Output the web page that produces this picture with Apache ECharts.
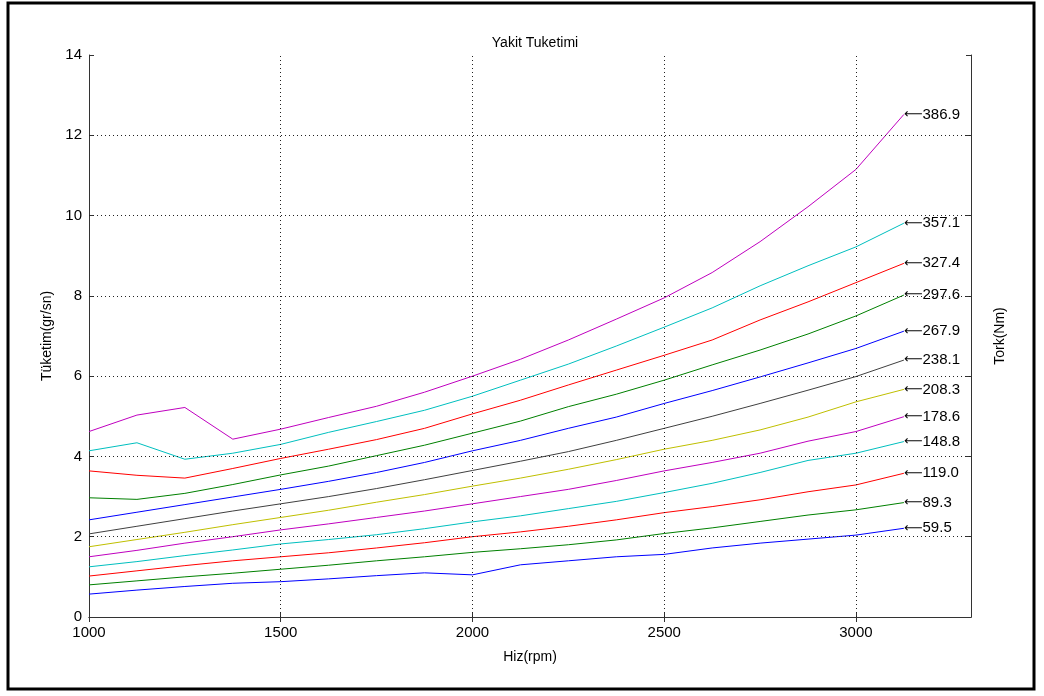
<!DOCTYPE html>
<html>
<head>
<meta charset="utf-8">
<script src="https://cdn.jsdelivr.net/npm/echarts@6/dist/echarts.min.js"></script>
<style>
  html, body { margin: 0; padding: 0; background: #fff; }
  #chart { width: 1044px; height: 696px; }
</style>
</head>
<body>
<div id="chart"></div>
<script>
  // hiz (rpm) noktalari
  var rpm = [1000, 1125, 1250, 1375, 1500, 1625, 1750, 1875, 2000, 2125, 2250, 2375, 2500, 2625, 2750, 2875, 3000, 3125]
  var torque = ['59.5', '89.3', '119.0', '148.8', '178.6', '208.3', '238.1', '267.9', '297.6', '327.4', '357.1', '386.9']
  var yTicks = [0, 2, 4, 6, 8, 10, 12, 14]
  var xTicks = [1000, 1500, 2000, 2500, 3000]

  // tuketim (gr/sn), her tork icin
  var t59 = [0.57, 0.67, 0.76, 0.84, 0.88, 0.95, 1.03, 1.10, 1.05, 1.30, 1.40, 1.50, 1.56, 1.72, 1.84, 1.94, 2.04, 2.21]
  var t89 = [0.80, 0.90, 1.00, 1.09, 1.19, 1.29, 1.40, 1.50, 1.61, 1.70, 1.80, 1.92, 2.08, 2.22, 2.38, 2.54, 2.67, 2.85]
  var t119 = [1.02, 1.15, 1.28, 1.40, 1.50, 1.60, 1.72, 1.85, 2.00, 2.12, 2.26, 2.42, 2.60, 2.75, 2.92, 3.12, 3.29, 3.58]
  var t148 = [1.25, 1.38, 1.53, 1.67, 1.82, 1.93, 2.05, 2.20, 2.37, 2.52, 2.70, 2.88, 3.10, 3.33, 3.60, 3.90, 4.08, 4.37]
  var t178 = [1.50, 1.66, 1.84, 2.00, 2.17, 2.32, 2.48, 2.64, 2.82, 3.00, 3.18, 3.40, 3.64, 3.85, 4.08, 4.38, 4.62, 4.99]
  var t208 = [1.75, 1.93, 2.11, 2.30, 2.48, 2.66, 2.86, 3.05, 3.26, 3.46, 3.68, 3.92, 4.18, 4.40, 4.66, 4.98, 5.36, 5.67]
  var t238 = [2.07, 2.26, 2.45, 2.64, 2.82, 3.00, 3.20, 3.42, 3.65, 3.88, 4.12, 4.40, 4.70, 5.00, 5.32, 5.65, 5.99, 6.40]
  var t267 = [2.42, 2.61, 2.80, 2.99, 3.18, 3.38, 3.60, 3.85, 4.14, 4.40, 4.70, 4.98, 5.32, 5.64, 5.98, 6.33, 6.69, 7.12]
  var t297 = [2.97, 2.93, 3.08, 3.30, 3.54, 3.76, 4.02, 4.28, 4.58, 4.88, 5.24, 5.55, 5.90, 6.28, 6.65, 7.05, 7.50, 8.02]
  var t327 = [3.64, 3.53, 3.46, 3.70, 3.95, 4.18, 4.42, 4.70, 5.06, 5.40, 5.78, 6.15, 6.52, 6.90, 7.40, 7.85, 8.33, 8.81]
  var t357 = [4.14, 4.34, 3.93, 4.08, 4.30, 4.60, 4.87, 5.15, 5.50, 5.90, 6.30, 6.75, 7.22, 7.70, 8.25, 8.75, 9.22, 9.81]
  var t386 = [4.62, 5.03, 5.22, 4.43, 4.68, 4.97, 5.25, 5.60, 6.00, 6.42, 6.90, 7.42, 7.95, 8.58, 9.35, 10.22, 11.15, 12.52]

  var allValues = [t59, t89, t119, t148, t178, t208, t238, t267, t297, t327, t357, t386]
  var colors = ['#0000ff', '#008000', '#ff0000', '#00bfbf', '#bf00bf', '#bfbf00', '#404040',
                '#0000ff', '#008000', '#ff0000', '#00bfbf', '#bf00bf']

  var font = '"Liberation Sans", Arial, Helvetica, sans-serif'

  var series = []
  for (var i = 0; i < allValues.length; i++) {
    var pts = []
    for (var j = 0; j < rpm.length; j++) {
      pts.push([rpm[j], allValues[i][j]])
    }
    series.push({
      name: torque[i],
      type: 'line',
      data: pts,
      showSymbol: false,
      symbol: 'none',
      lineStyle: {color: colors[i], width: 1},
      itemStyle: {color: colors[i]},
      endLabel: {
        show: true,
        distance: 0,
        formatter: '{a|\u27F5}{b|' + torque[i] + '}',
        rich: {
          a: {fontFamily: '"DejaVu Sans"', fontSize: 13, color: '#000'},
          b: {fontFamily: font, fontSize: 15, color: '#000'}
        }
      },
      z: 3
    })
  }

  var axisLine = {show: true, lineStyle: {color: '#333', width: 1}}
  var tick = {show: true, inside: true, length: 5, lineStyle: {color: '#333'}}
  var xTick = {show: true, inside: true, length: 5, lineStyle: {color: '#333'}, customValues: xTicks}
  var gridStyle = {color: '#222', width: 1, type: [1, 3]}

  var chart = echarts.init(document.getElementById('chart'))
  chart.setOption({
    animation: false,
    backgroundColor: '#fff',
    title: {
      text: 'Yakit Tuketimi',
      left: 530,
      textAlign: 'center',
      top: 31,
      textStyle: {fontFamily: font, fontSize: 14, fontWeight: 'normal', color: '#000'}
    },
    grid: {left: 89, right: 73, top: 55, bottom: 79},
    xAxis: [{
      type: 'value',
      min: 1000,
      max: 3300,
      interval: 500,
      name: 'Hiz(rpm)',
      nameLocation: 'middle',
      nameGap: 33,
      nameTextStyle: {fontFamily: font, fontSize: 14, color: '#000'},
      axisLine: axisLine,
      axisTick: xTick,
      splitLine: {show: false},
      axisLabel: {
        margin: 8,
        fontFamily: font, fontSize: 15, color: '#000',
        formatter: function (v) { return xTicks.indexOf(v) >= 0 ? String(v) : '' }
      }
    }, {
      type: 'value',
      position: 'top',
      min: 1000,
      max: 3300,
      interval: 500,
      axisLine: axisLine,
      axisTick: xTick,
      axisLabel: {show: false},
      splitLine: {show: false}
    }],
    yAxis: [{
      type: 'value',
      min: 0,
      max: 14,
      interval: 2,
      name: 'Tüketim(gr/sn)',
      nameLocation: 'middle',
      nameGap: 33,
      nameRotate: 90,
      nameTextStyle: {fontFamily: font, fontSize: 14, color: '#000'},
      axisLine: axisLine,
      axisTick: tick,
      splitLine: {show: false},
      axisLabel: {
        margin: 7,
        fontFamily: font, fontSize: 15, color: '#000',
        formatter: function (v) { return yTicks.indexOf(v) >= 0 ? String(v) : '' }
      }
    }, {
      type: 'value',
      position: 'right',
      min: 0,
      max: 14,
      interval: 2,
      name: 'Tork(Nm)',
      nameLocation: 'middle',
      nameGap: 22,
      nameRotate: 90,
      nameTextStyle: {fontFamily: font, fontSize: 14, color: '#000'},
      axisLine: axisLine,
      axisTick: tick,
      axisLabel: {show: false},
      splitLine: {show: false}
    }],
    series: series.concat([{
      // noktali izgara, sadece ic tiklerde
      type: 'line',
      data: [],
      markLine: {
        silent: true,
        symbol: 'none',
        label: {show: false},
        lineStyle: gridStyle,
        data: [1500, 2000, 2500, 3000].map(function (v) { return {xAxis: v} })
          .concat([2, 4, 6, 8, 10, 12].map(function (v) { return {yAxis: v} }))
      },
      z: 1
    }]),
    graphic: [{
      type: 'rect',
      shape: {x: 8, y: 3, width: 1026, height: 686},
      style: {fill: 'none', stroke: '#000', lineWidth: 3},
      silent: true
    }]
  })
</script>
</body>
</html>
